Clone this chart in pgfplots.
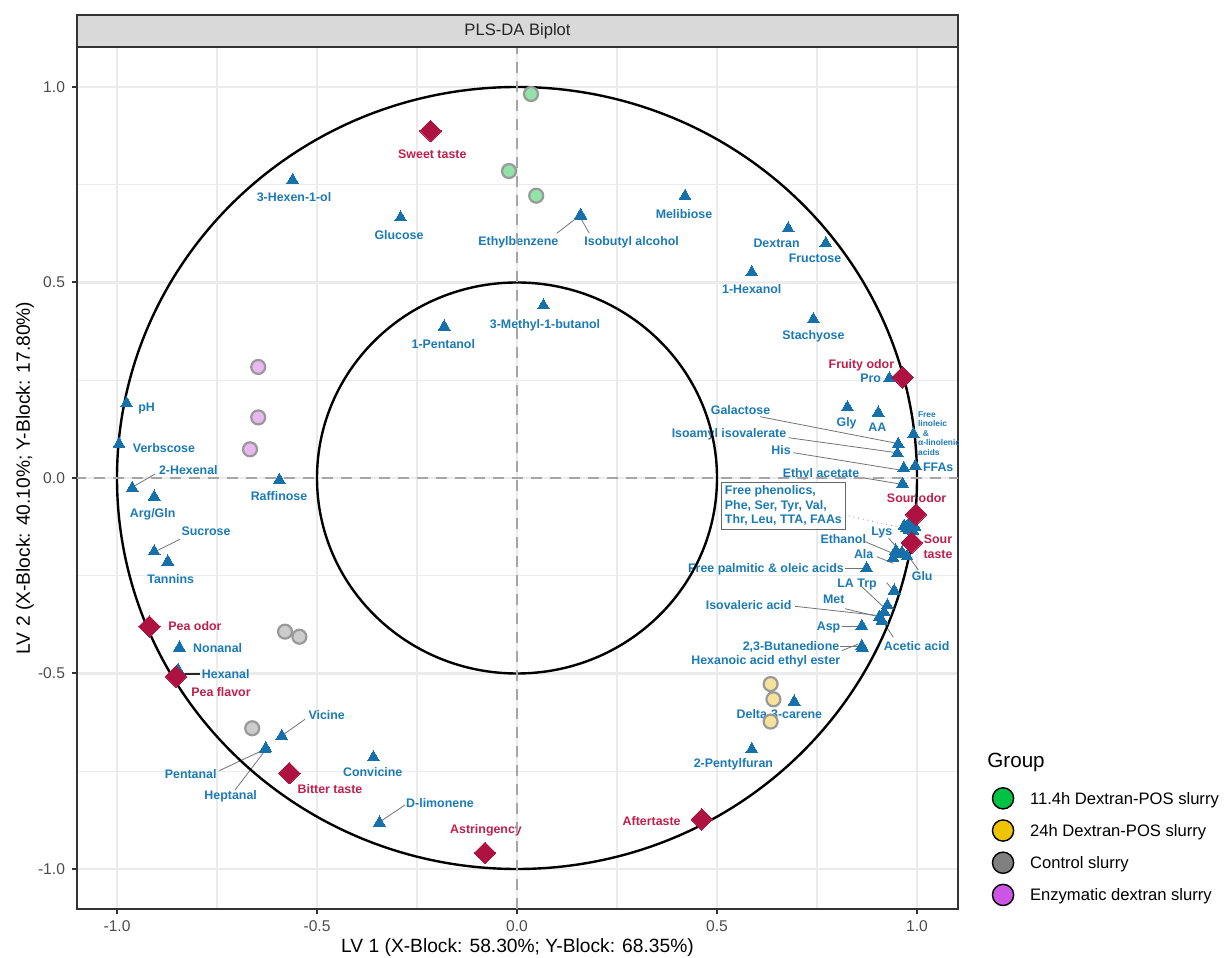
\documentclass[border=0pt]{standalone}
\usepackage{fontspec}
\setmainfont{Liberation Sans}
\usepackage{pgfplots}
\pgfplotsset{compat=1.18}
\definecolor{gridc}{HTML}{EBEBEB}
\definecolor{blueT}{HTML}{1670AA}
\definecolor{blueL}{HTML}{1B7AB6}
\definecolor{crimD}{HTML}{AE1240}
\definecolor{crimL}{HTML}{BF1F4B}
\definecolor{gFill}{HTML}{92E3A8}
\definecolor{yFill}{HTML}{F6E29A}
\definecolor{cFill}{HTML}{CCCCCC}
\definecolor{pFill}{HTML}{EAB8F1}
\definecolor{sOut}{HTML}{999999}
\definecolor{lgG}{HTML}{00C244}
\definecolor{lgY}{HTML}{EEC300}
\definecolor{lgC}{HTML}{808080}
\definecolor{lgP}{HTML}{CC55E6}
\definecolor{stripc}{HTML}{D9D9D9}
\definecolor{frame}{HTML}{333333}
\tikzset{
  lab/.style={font=\bfseries\fontsize{6.2}{7.25}\selectfont, text=blueL, inner sep=0pt, text height=4.45pt, text depth=0pt},
  labr/.style={lab, text=crimL},
  lead/.style={draw=black!55, line width=0.4pt},
}
\begin{document}
\begin{tikzpicture}
\useasboundingbox (-38.5pt,-24pt) rectangle (573.5pt,454.5pt);
\begin{axis}[name=ax, at={(0,0)}, anchor=south west, scale only axis,
  width=440.5pt, height=431pt,
  xmin=-1.1, xmax=1.1025, ymin=-1.1023, ymax=1.1023,
  xtick={-1,-0.5,0,0.5,1}, xticklabels={-1.0,-0.5,0.0,0.5,1.0},
  ytick={-1,-0.5,0,0.5,1}, yticklabels={-1.0,-0.5,0.0,0.5,1.0},
  minor xtick={-0.75,-0.25,0.25,0.75}, minor ytick={-0.75,-0.25,0.25,0.75},
  grid=both, major grid style={draw=gridc, line width=1.1pt}, minor grid style={draw=gridc, line width=0.55pt},
  tick align=outside, major tick length=2.5pt, minor tick length=0pt,
  xtick pos=left, ytick pos=left,
  tick style={draw=frame, line width=1pt},
  axis line style={draw=frame, line width=1pt},
  ticklabel style={font=\fontsize{7.8}{9}\selectfont, text=black!70},
  xlabel={LV 1 (X-Block: 58.30\%; Y-Block: 68.35\%)},
  ylabel={LV 2 (X-Block: 40.10\%; Y-Block: 17.80\%)},
  label style={font=\fontsize{9.6}{11}\selectfont},
  xlabel style={at={(axis description cs:0.5,-0.051)}, anchor=base},
  ylabel style={at={(axis description cs:-0.059,0.5)}, anchor=center},
  legend style={draw=none, fill=none, at={(axis description cs:1.0383,0.1415)}, anchor=north west,
    inner sep=0pt, outer sep=0pt, row sep=4.8pt, font=\fontsize{8.3}{10}\selectfont,
    nodes={inner sep=0pt, text height=5.9pt, text depth=0pt},
    /tikz/column 1/.style={column sep=7.85pt}},
  legend cell align=left,
  legend image code/.code={\draw[#1] (0pt,0pt) circle (5.3pt);},
]
\addlegendimage{fill=lgG, draw=black, line width=0.7pt}
\addlegendentry{11.4h Dextran-POS slurry}
\addlegendimage{fill=lgY, draw=black, line width=0.7pt}
\addlegendentry{24h Dextran-POS slurry}
\addlegendimage{fill=lgC, draw=black, line width=0.7pt}
\addlegendentry{Control slurry}
\addlegendimage{fill=lgP, draw=black, line width=0.7pt}
\addlegendentry{Enzymatic dextran slurry}

% samples
\addplot[only marks, mark=*, mark size=3.5pt, mark options={fill=gFill, draw=sOut, line width=1.1pt}, forget plot]
  coordinates {(0.035,0.982) (-0.02,0.785) (0.048,0.722)};
\addplot[only marks, mark=*, mark size=3.5pt, mark options={fill=yFill, draw=sOut, line width=1.1pt}, forget plot]
  coordinates {(0.634,-0.527) (0.641,-0.566) (0.634,-0.623)};
\addplot[only marks, mark=*, mark size=3.5pt, mark options={fill=cFill, draw=sOut, line width=1.1pt}, forget plot]
  coordinates {(-0.58,-0.393) (-0.544,-0.406) (-0.662,-0.640)};
\addplot[only marks, mark=*, mark size=3.5pt, mark options={fill=pFill, draw=sOut, line width=1.1pt}, forget plot]
  coordinates {(-0.647,0.284) (-0.647,0.155) (-0.6675,0.0734)};

% variables
\addplot[only marks, mark=triangle*, mark size=3.4pt, mark options={fill=blueT, draw=blueT, line width=0pt}, forget plot]
  coordinates {
  (-0.976,0.191) (-0.995,0.087) (-0.962,-0.026) (-0.907,-0.048) (-0.907,-0.188) (-0.873,-0.214)
  (-0.594,-0.005) (-0.561,0.762) (-0.291,0.666) (-0.182,0.387) (0.066,0.441) (0.159,0.673) (0.160,0.670)
  (0.420,0.721) (0.678,0.638) (0.772,0.600) (0.587,0.526) (0.741,0.406)
  (0.931,0.255) (0.826,0.181) (0.903,0.167) (0.991,0.112) (0.953,0.087) (0.951,0.063) (0.967,0.025)
  (0.996,0.031) (0.964,-0.015)
  (0.9825,-0.115) (0.974,-0.1286) (0.995,-0.1245) (0.98,-0.133) (0.9875,-0.1074) (0.9675,-0.1228)
  (0.99,-0.1355) (0.9775,-0.120) (0.985,-0.1253)
  (0.9625,-0.19) (0.952,-0.195) (0.94,-0.2046) (0.975,-0.2) (0.947,-0.186)
  (0.874,-0.231) (0.943,-0.288) (0.926,-0.326) (0.918,-0.343) (0.905,-0.357) (0.9125,-0.365)
  (0.862,-0.3785) (0.862,-0.43) (0.864,-0.435) (0.693,-0.572) (0.587,-0.694)
  (-0.844,-0.434) (-0.847,-0.491) (-0.588,-0.66) (-0.628,-0.691) (-0.630,-0.694)
  (-0.359,-0.714) (-0.344,-0.8815)};

% sensory attributes
\addplot[only marks, mark=square*, mark size=3.8pt, mark options={rotate=45, fill=crimD, draw=crimD, line width=0pt}, forget plot]
  coordinates {(-0.216,0.8875) (0.964,0.2575) (0.9975,-0.093) (0.987,-0.1654) (-0.919,-0.380)
  (-0.8525,-0.508) (-0.569,-0.755) (-0.08,-0.959) (0.462,-0.873)};

% leader lines
\draw[lead] (axis cs:-0.905,0.0102) -- (axis cs:-0.9593,-0.0222);
\draw[lead] (axis cs:-0.8425,-0.1568) -- (axis cs:-0.905,-0.1885);
\draw[lead] (axis cs:0.0993,0.6258) -- (axis cs:0.1533,0.6683);
\draw[lead] (axis cs:0.1808,0.6258) -- (axis cs:0.1593,0.6642);
\draw[draw=black!85, line width=0.6pt] (axis cs:-0.7925,-0.5013) -- (axis cs:-0.8383,-0.5013);
\draw[lead] (axis cs:-0.53,-0.6172) -- (axis cs:-0.5858,-0.6573);
\draw[lead] (axis cs:-0.7443,-0.7486) -- (axis cs:-0.6343,-0.6957);
\draw[lead] (axis cs:-0.705,-0.798) -- (axis cs:-0.63,-0.6974);
\draw[lead] (axis cs:-0.28,-0.8363) -- (axis cs:-0.3425,-0.879);
\draw[lead] (axis cs:0.6075,0.1568) -- (axis cs:0.9492,0.0887);
\draw[lead] (axis cs:0.6783,0.1031) -- (axis cs:0.9492,0.0647);
\draw[lead] (axis cs:0.6908,0.0647) -- (axis cs:0.9575,0.0205);
\draw[lead] (axis cs:0.8575,0.0017) -- (axis cs:0.9575,-0.0153);
\draw[lead, dotted] (axis cs:0.8293,-0.097) -- (axis cs:0.9693,-0.1287);
\draw[lead] (axis cs:0.9293,-0.1542) -- (axis cs:0.9625,-0.1926);
\draw[lead] (axis cs:0.87,-0.1629) -- (axis cs:0.9493,-0.1969);
\draw[lead] (axis cs:0.8993,-0.2012) -- (axis cs:0.9408,-0.2183);
\draw[lead] (axis cs:1.0033,-0.2353) -- (axis cs:0.9825,-0.2054);
\draw[lead] (axis cs:0.82,-0.231) -- (axis cs:0.8617,-0.231);
\draw[lead] (axis cs:0.9243,-0.2677) -- (axis cs:0.9408,-0.2882);
\draw[lead] (axis cs:0.8618,-0.2779) -- (axis cs:0.92,-0.3333);
\draw[lead] (axis cs:0.82,-0.3343) -- (axis cs:0.9143,-0.3573);
\draw[lead] (axis cs:0.695,-0.3282) -- (axis cs:0.8993,-0.3512);
\draw[lead] (axis cs:0.8118,-0.3785) -- (axis cs:0.8493,-0.3785);
\draw[lead] (axis cs:0.9408,-0.4075) -- (axis cs:0.9118,-0.3624);
\draw[lead] (axis cs:0.8075,-0.4297) -- (axis cs:0.8493,-0.4297);
\draw[lead] (axis cs:0.8118,-0.4416) -- (axis cs:0.8533,-0.4246);

% variable labels
\node[lab] at (axis cs:-0.9258,0.1808) {pH};
\node[lab] at (axis cs:-0.8825,0.0775) {Verbscose};
\node[lab] at (axis cs:-0.8217,0.0205) {2-Hexenal};
\node[lab] at (axis cs:-0.9108,-0.0903) {Arg/Gln};
\node[lab] at (axis cs:-0.7775,-0.1347) {Sucrose};
\node[lab] at (axis cs:-0.8658,-0.2592) {Tannins};
\node[lab] at (axis cs:-0.595,-0.046) {Raffinose};
\node[lab] at (axis cs:-0.5575,0.7179) {3-Hexen-1-ol};
\node[lab] at (axis cs:-0.295,0.6223) {Glucose};
\node[lab] at (axis cs:-0.1842,0.3427) {1-Pentanol};
\node[lab] at (axis cs:0.07,0.3939) {3-Methyl-1-butanol};
\node[lab] at (axis cs:0.0033,0.607) {Ethylbenzene};
\node[lab] at (axis cs:0.2867,0.607) {Isobutyl alcohol};
\node[lab] at (axis cs:0.4175,0.675) {Melibiose};
\node[lab] at (axis cs:0.649,0.600) {Dextran};
\node[lab] at (axis cs:0.745,0.5635) {Fructose};
\node[lab] at (axis cs:0.587,0.4825) {1-Hexanol};
\node[lab] at (axis cs:0.741,0.365) {Stachyose};
\node[lab] at (axis cs:0.884,0.255) {Pro};
\node[lab] at (axis cs:0.5588,0.174) {Galactose};
\node[lab] at (axis cs:0.824,0.144) {Gly};
\node[lab] at (axis cs:0.901,0.1296) {AA};
\node[lab] at (axis cs:0.53,0.1142) {Isoamyl isovalerate};
\node[lab] at (axis cs:0.66,0.0716) {His};
\node[lab] at (axis cs:1.053,0.0273) {FFAs};
\node[lab] at (axis cs:0.76,0.012) {Ethyl acetate};
\node[lab, font=\bfseries\fontsize{4.2}{4.8}\selectfont, align=left, anchor=west, text height=, text depth=] at (axis cs:1.0017,0.1138) {Free\\linoleic\\\hspace*{2.4pt}\&\\α-linolenic\\acids};
\node[lab, draw=black!60, fill=white, line width=0.6pt, inner sep=1.8pt, align=left, text height=, text depth=] at (axis cs:0.666,-0.071) {Free phenolics,\\Phe, Ser, Tyr, Val,\\Thr, Leu, TTA, FAAs};
\node[lab] at (axis cs:0.912,-0.1347) {Lys};
\node[lab] at (axis cs:0.8156,-0.157) {Ethanol};
\node[lab] at (axis cs:0.8667,-0.194) {Ala};
\node[lab] at (axis cs:1.013,-0.2506) {Glu};
\node[lab] at (axis cs:0.6225,-0.231) {Free palmitic \& oleic acids};
\node[lab] at (axis cs:0.85,-0.2677) {LA Trp};
\node[lab] at (axis cs:0.792,-0.310) {Met};
\node[lab] at (axis cs:0.579,-0.325) {Isovaleric acid};
\node[lab] at (axis cs:0.779,-0.3785) {Asp};
\node[lab] at (axis cs:0.999,-0.4297) {Acetic acid};
\node[lab] at (axis cs:0.685,-0.4297) {2,3-Butanedione};
\node[lab] at (axis cs:0.622,-0.4655) {Hexanoic acid ethyl ester};
\node[lab] at (axis cs:0.656,-0.6044) {Delta-3-carene};
\node[lab] at (axis cs:0.541,-0.7297) {2-Pentylfuran};
\node[lab] at (axis cs:-0.7483,-0.4356) {Nonanal};
\node[lab] at (axis cs:-0.7283,-0.5013) {Hexanal};
\node[lab] at (axis cs:-0.4758,-0.6061) {Vicine};
\node[lab] at (axis cs:-0.8158,-0.7578) {Pentanal};
\node[lab] at (axis cs:-0.7158,-0.8107) {Heptanal};
\node[lab] at (axis cs:-0.3608,-0.7527) {Convicine};
\node[lab] at (axis cs:-0.1925,-0.832) {D-limonene};

% sensory labels
\node[labr] at (axis cs:-0.2117,0.8286) {Sweet taste};
\node[labr] at (axis cs:0.861,0.2916) {Fruity odor};
\node[labr] at (axis cs:0.999,-0.052) {Sour odor};
\node[labr, align=center, text height=, text depth=] at (axis cs:1.0525,-0.1757) {Sour\\taste};
\node[labr] at (axis cs:-0.805,-0.3777) {Pea odor};
\node[labr] at (axis cs:-0.74,-0.5465) {Pea flavor};
\node[labr] at (axis cs:-0.4675,-0.7962) {Bitter taste};
\node[labr] at (axis cs:-0.0775,-0.8977) {Astringency};
\node[labr] at (axis cs:0.3367,-0.8772) {Aftertaste};

% correlation circles
\draw[black, line width=1.2pt] (axis cs:0,0) ellipse [x radius=1, y radius=1];
\draw[black, line width=1.2pt] (axis cs:0,0) ellipse [x radius=0.5, y radius=0.5];
% zero lines
\draw[draw=black!35, line width=1.2pt, dash pattern=on 5.5pt off 4pt] (axis cs:0,-1.2) -- (axis cs:0,1.2);
\draw[draw=black!35, line width=1.2pt, dash pattern=on 5.5pt off 4pt] (axis cs:-1.2,0) -- (axis cs:1.2,0);
\end{axis}
\draw[fill=stripc, draw=frame, line width=1pt] (ax.north west) rectangle ([yshift=16pt]ax.north east);
\node[font=\fontsize{8.3}{10}\selectfont, text=black!85] at ([yshift=8pt]ax.north) {PLS-DA Biplot};
\node[anchor=west, font=\fontsize{10.3}{12}\selectfont, inner sep=0pt] at ([xshift=455pt, yshift=73.5pt]ax.south west) {Group};
\end{tikzpicture}
\end{document}
